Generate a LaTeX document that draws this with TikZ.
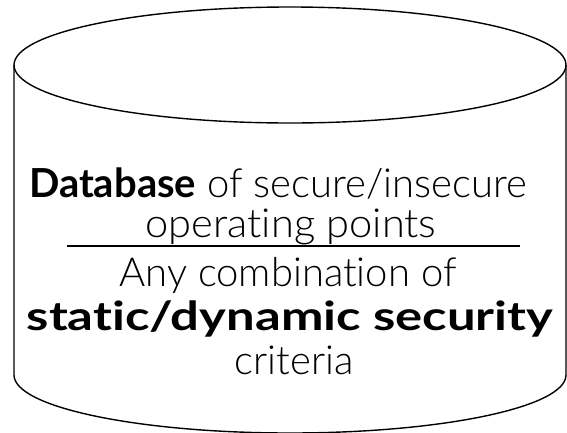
\documentclass[tikz,border=0pt]{standalone}
\usepackage{fontspec}
\usepackage{graphicx}
\setmainfont{Lato Light}[Ligatures=NoCommon,BoldFont={Lato Bold}]
\begin{document}
\begin{tikzpicture}[x=1pt,y=-1pt,
  cyl/.style={draw=black,line width=1.4pt},
  txt/.style={font=\fontsize{40}{48}\selectfont,align=center,inner sep=0pt,anchor=base}]
\useasboundingbox (0,0) rectangle (567,432);
\begin{scope}
\clip (0,0) rectangle (567,432);
\draw[cyl] (290,65) ellipse [x radius=276, y radius=58];
\draw[cyl] (14,65) -- (14,375) arc[start angle=180,end angle=360,x radius=276,y radius=-58] -- (566,65);
\end{scope}
\node[txt] (l1) at (278,197) {\textbf{Database} of secure/insecure};
\node[txt] (l2) at (291,237) {\scalebox{1.04}[1]{operating points}};
\coordinate (ra) at (67,246);
\coordinate (rb) at (520,246);
\draw[line width=1.4pt] (ra) -- (rb);
\node[txt] (l3) at (288,286) {Any combination of};
\node[txt] (l4) at (290,330) {\scalebox{1.27}[1]{\textbf{static/dynamic security}}};
\node[txt] (l5) at (294,374) {criteria};
\end{tikzpicture}
\end{document}
